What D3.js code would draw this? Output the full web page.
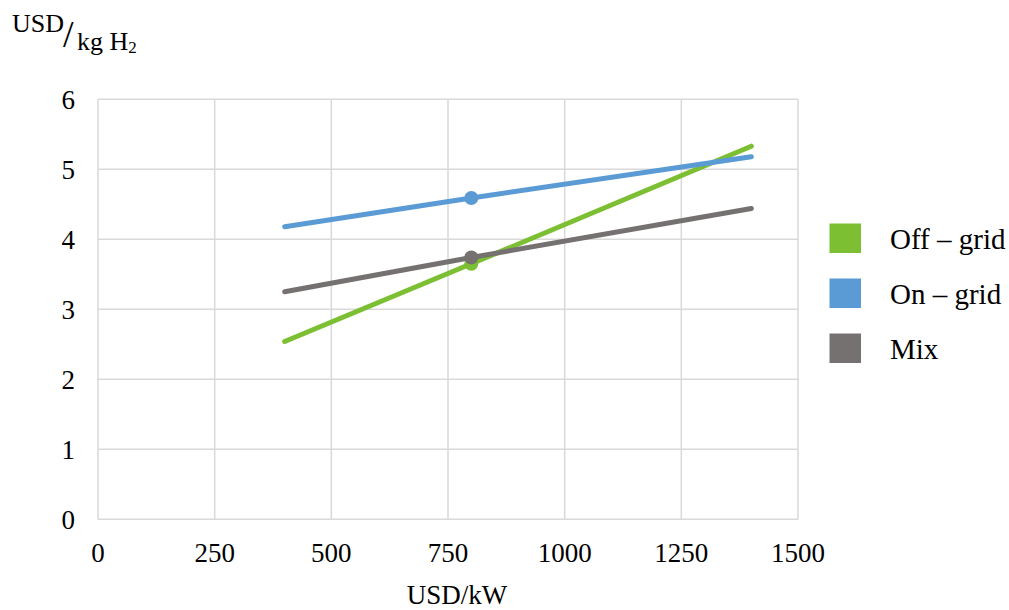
<!DOCTYPE html>
<html><head><meta charset="utf-8">
<script src="https://cdn.jsdelivr.net/npm/d3@7"></script>
<style>body{margin:0;background:#fff}svg text{font-family:"Liberation Serif","Times New Roman",serif;fill:#000}</style>
</head><body><svg id="c" width="1009" height="610"></svg>
<script>
const xValues = [400, 800, 1400];
const offGrid = [2.54, 3.65, 5.33];
const onGrid = [4.18, 4.59, 5.18];
const mix = [3.25, 3.74, 4.44];
const markerIndex = 1;
const seriesNames = ["Off \u2013 grid", "On \u2013 grid", "Mix"];
const seriesColors = ["#7CBF33", "#5B9BD5", "#767171"];
const xTicks = [0, 250, 500, 750, 1000, 1250, 1500];
const yTicks = [0, 1, 2, 3, 4, 5, 6];

const svg = d3.select("#c");
const x = d3.scaleLinear().domain([0, 1500]).range([98, 798]);
const y = d3.scaleLinear().domain([0, 6]).range([519.3, 99.3]);

const grid = svg.append("g");
grid.selectAll("line.v").data(xTicks).enter().append("line")
  .attr("x1", d => x(d)).attr("x2", d => x(d)).attr("y1", y(6)).attr("y2", y(0))
  .attr("stroke", "#d9d9d9").attr("stroke-width", 1.5);
grid.selectAll("line.h").data(yTicks).enter().append("line")
  .attr("x1", x(0)).attr("x2", x(1500)).attr("y1", d => y(d)).attr("y2", d => y(d))
  .attr("stroke", "#d9d9d9").attr("stroke-width", 1.5);

svg.append("g").selectAll("text").data(yTicks).enter().append("text")
  .attr("x", 75).attr("y", d => y(d)).attr("dy", "0.35em").attr("text-anchor", "end")
  .attr("font-size", 27).text(d => d);
svg.append("g").selectAll("text").data(xTicks).enter().append("text")
  .attr("x", d => x(d)).attr("y", 561.5).attr("text-anchor", "middle")
  .attr("font-size", 27).text(d => d);

svg.append("text").attr("x", 457).attr("y", 604).attr("text-anchor", "middle")
  .attr("font-size", 27).text("USD/kW");

// y axis unit label
svg.append("text").attr("x", 12).attr("y", 31.5).attr("font-size", 26).text("USD");
svg.append("text").attr("x", 63).attr("y", 47).attr("font-size", 38).text("/");
const yl2 = svg.append("text").attr("x", 77).attr("y", 50).attr("font-size", 26);
yl2.append("tspan").text("kg H");
yl2.append("tspan").attr("font-size", 17).attr("dy", 3).text("2");

const series = [offGrid, onGrid, mix];
const line = d3.line().x((d, i) => x(xValues[i])).y(d => y(d));
series.forEach((s, k) => {
  svg.append("path").datum(s).attr("d", line).attr("fill", "none")
    .attr("stroke", seriesColors[k]).attr("stroke-width", 5)
    .attr("stroke-linecap", "round").attr("stroke-linejoin", "round");
});
series.forEach((s, k) => {
  svg.append("circle").attr("cx", x(xValues[markerIndex])).attr("cy", y(s[markerIndex]))
    .attr("r", 7).attr("fill", seriesColors[k]);
});

const leg = svg.append("g");
seriesNames.forEach((n, k) => {
  const top = 223.5 + k * 55;
  leg.append("rect").attr("x", 829.5).attr("y", top).attr("width", 31.5).attr("height", 29.5)
    .attr("fill", seriesColors[k]);
  leg.append("text").attr("x", 890).attr("y", top + 25).attr("font-size", 29).text(n);
});
</script></body></html>
